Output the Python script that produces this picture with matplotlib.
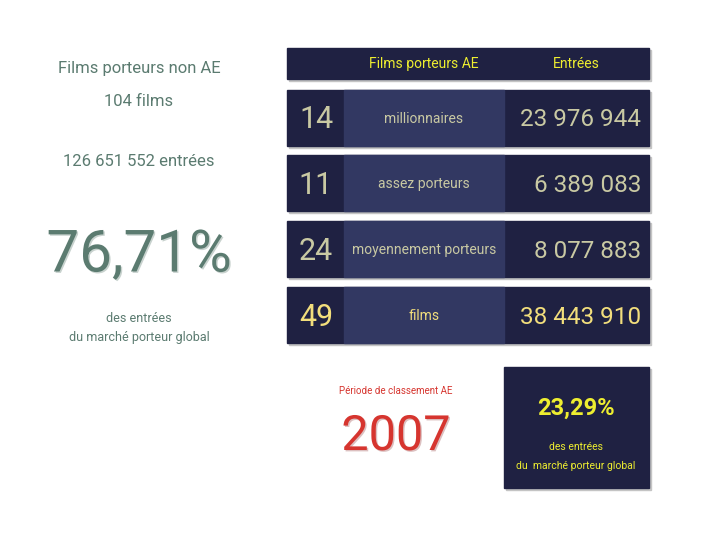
import matplotlib.pyplot as plt
import matplotlib.patheffects as pe
from matplotlib.patches import Rectangle

# data
counts = [14, 11, 24, 49]
groups = ['millionnaires', 'assez porteurs', 'moyennement porteurs', 'films']
entries = [23976944, 6389083, 8077883, 38443910]
non_ae_films = 104
non_ae_entries = 126651552
non_ae_share = '76,71%'
ae_share = '23,29%'
year = '2007'

plt.rcParams['font.family'] = ['Roboto', 'DejaVu Sans']
dark = '#1f2142'
mid = '#323862'
beige = '#c9c9a3'
yellow = '#eeee30'
green = '#5b7b70'
red = '#d6352f'


def fmt(n):
    return f'{n:,}'.replace(',', ' ')


def shadow(col):
    return [pe.SimplePatchShadow(offset=(1, -1), shadow_rgbFace=col, alpha=1), pe.Normal()]


fig = plt.figure(figsize=(7.2, 5.4), dpi=100)
ax = fig.add_axes([0, 0, 1, 1])
ax.set_xlim(0, 720)
ax.set_ylim(540, 0)
ax.axis('off')


def box(x, y, w, h, color):
    ax.add_patch(Rectangle((x + 2, y + 2), w, h, color='#c4c4c4', zorder=1))
    ax.add_patch(Rectangle((x, y), w, h, color=color, zorder=2))


# header
box(287, 48, 362, 31, dark)
ax.text(424, 64, 'Films porteurs AE', color=yellow, fontsize=10, ha='center', va='center', zorder=3)
ax.text(576, 64, 'Entrées', color=yellow, fontsize=10, ha='center', va='center', zorder=3)

# rows
row_tops = [90, 155, 221, 287]
for i, (c, g, e) in enumerate(zip(counts, groups, entries)):
    y = row_tops[i]
    h = 56
    box(287, y, 362, h, dark)
    ax.add_patch(Rectangle((344, y), 160, h, color=mid, zorder=2))
    col = '#f2de7c' if i == len(counts) - 1 else beige
    ax.text(316, y + h / 2 + 2, str(c), color=col, fontsize=22, ha='center', va='center', zorder=3)
    ax.text(424, y + h / 2 + 1, g, color=col, fontsize=10, ha='center', va='center', zorder=3)
    ax.text(641, y + h / 2 + 2, fmt(e), color=col, fontsize=17.5, ha='right', va='center', zorder=3)

# left block
ax.text(139, 69, 'Films porteurs non AE', color=green, fontsize=12, ha='center', va='center')
ax.text(139, 102, f'{non_ae_films} films', color=green, fontsize=12, ha='center', va='center')
ax.text(139, 161, f'{fmt(non_ae_entries)} entrées', color=green, fontsize=12, ha='center', va='center')
ax.text(139, 256, non_ae_share, color=green, fontsize=42, ha='center', va='center',
        path_effects=shadow('#c8d2ce'))
ax.text(139, 319, 'des entrées', color=green, fontsize=9, ha='center', va='center')
ax.text(139, 338, 'du marché porteur global', color=green, fontsize=9, ha='center', va='center')

# bottom
ax.text(396, 391, 'Période de classement AE', color=red, fontsize=7, ha='center', va='center')
ax.text(396, 437, year, color=red, fontsize=35, ha='center', va='center',
        path_effects=shadow('#dcc0c0'))

box(504, 367, 145, 121, dark)
ax.text(576, 408, ae_share, color=yellow, fontsize=17, fontweight='bold', ha='center', va='center', zorder=3)
ax.text(576, 447, 'des entrées', color=yellow, fontsize=7.5, ha='center', va='center', zorder=3)
ax.text(576, 466, 'du  marché porteur global', color=yellow, fontsize=7.5, ha='center', va='center', zorder=3)

fig.savefig('out.png', dpi=100, facecolor='white')
